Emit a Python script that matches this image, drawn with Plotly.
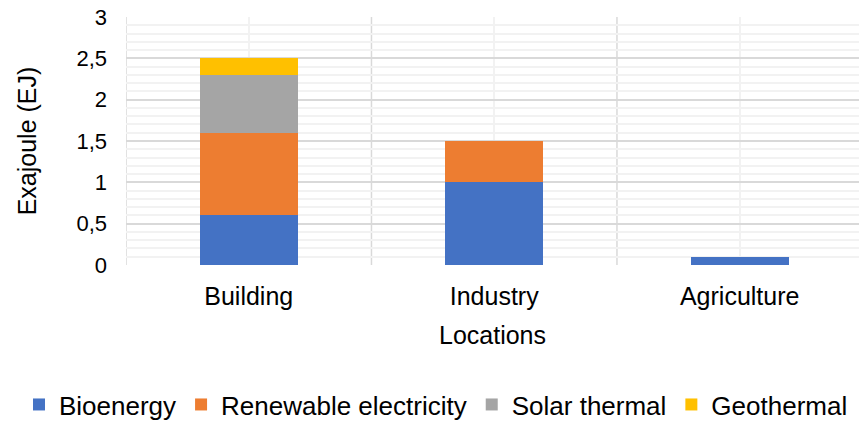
import plotly.graph_objects as go

# Final energy use by location and source (EJ)
locations = ["Building", "Industry", "Agriculture"]
bioenergy = [0.6, 1.0, 0.1]
renewable_electricity = [1.0, 0.5, 0.0]
solar_thermal = [0.7, 0.0, 0.0]
geothermal = [0.2, 0.0, 0.0]
y_ticks = [0, 0.5, 1, 1.5, 2, 2.5, 3]

series = [
    ("Bioenergy", bioenergy, "#4472C4"),
    ("Renewable electricity", renewable_electricity, "#ED7D31"),
    ("Solar thermal", solar_thermal, "#A5A5A5"),
    ("Geothermal", geothermal, "#FFC000"),
]

FONT = "Liberation Sans, Arial, sans-serif"
positions = list(range(len(locations)))
# category boundaries, drawn as the darker vertical gridlines
boundaries = [p - 0.5 for p in positions] + [positions[-1] + 0.5]

fig = go.Figure()
for name, vals, color in series:
    fig.add_trace(go.Bar(
        x=positions, y=vals, name=name, width=0.4,
        marker=dict(color=color, line=dict(width=0)),
    ))

for b in boundaries:
    fig.add_shape(type="line", xref="x", yref="paper", x0=b, x1=b, y0=0, y1=1,
                  layer="below", line=dict(color="#D9D9D9", width=1.5))

fig.update_layout(
    barmode="stack",
    width=859, height=423,
    margin=dict(l=126, r=0, t=17, b=158, autoexpand=False),
    paper_bgcolor="white", plot_bgcolor="white",
    separators=", ",
    font=dict(family=FONT, color="#000000", size=25),
    showlegend=True,
    legend=dict(
        orientation="h", xref="paper", yref="paper",
        x=-0.146, xanchor="left", y=-0.468, yanchor="top",
        font=dict(size=26, color="#000000"),
        itemwidth=30, traceorder="normal",
        bgcolor="rgba(0,0,0,0)",
    ),
    xaxis=dict(
        range=[-0.5, 2.486],
        tickmode="array", tickvals=positions, ticktext=locations,
        tickfont=dict(size=25, color="#000000"),
        ticklabelstandoff=14,
        showgrid=True, gridcolor="#F2F2F2", gridwidth=1.5,
        zeroline=False, showline=False, ticks="",
        title=dict(text="Locations", font=dict(size=25), standoff=17),
    ),
    yaxis=dict(
        range=[0, 3],
        tickmode="array", tickvals=y_ticks,
        tickfont=dict(size=22, color="#000000"),
        showgrid=True, gridcolor="#D9D9D9", gridwidth=1.5,
        zeroline=False, showline=False, ticks="",
        ticklabelstandoff=18,
        minor=dict(tickmode="linear", tick0=0, dtick=0.1,
                   showgrid=True, gridcolor="#F2F2F2", gridwidth=1.5),
        title=dict(text="Exajoule (EJ)", font=dict(size=25), standoff=32),
    ),
)

fig.write_html("out.html")
